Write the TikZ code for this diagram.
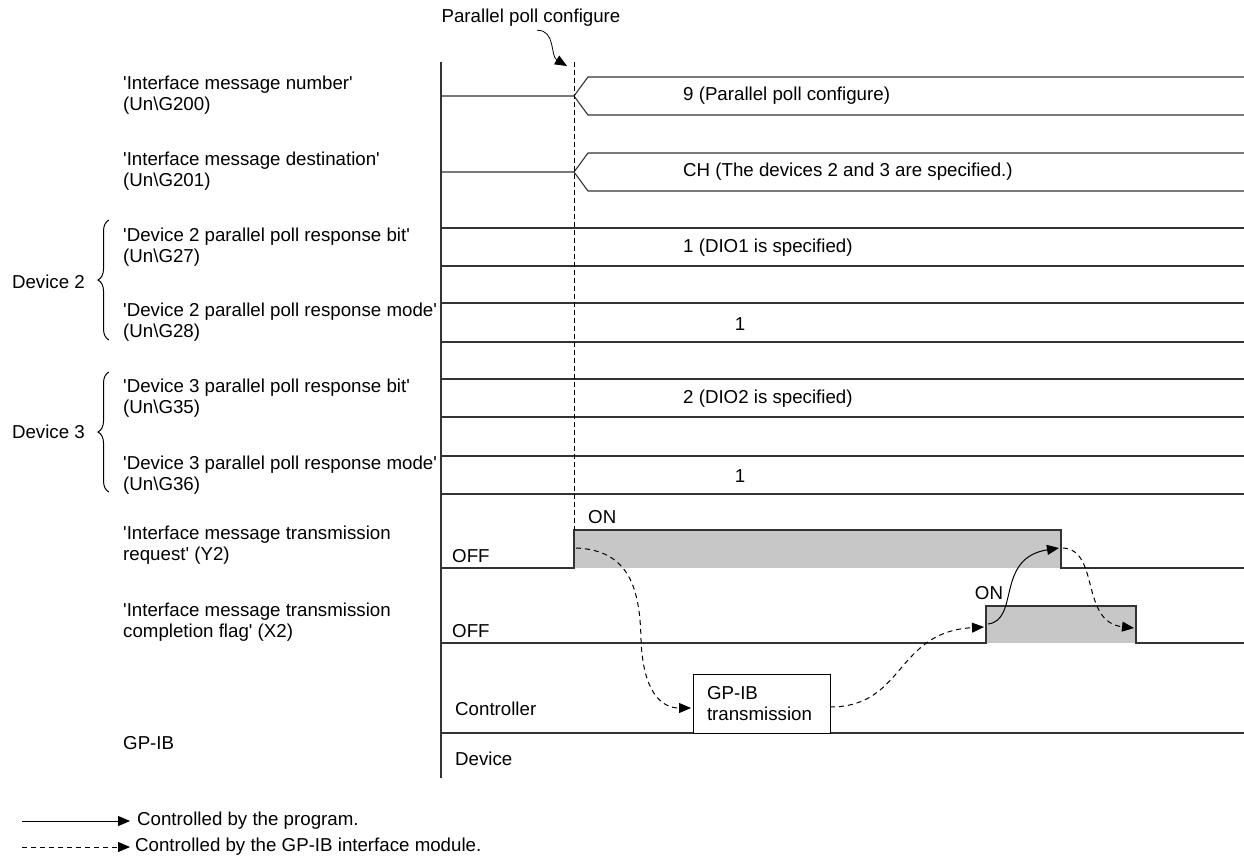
\documentclass[tikz,border=0pt]{standalone}
\usepackage{fontspec}
\setmainfont{Liberation Sans}
\usetikzlibrary{positioning, arrows.meta, decorations.pathreplacing}
\newcommand{\apo}{\textquotesingle}

\begin{document}
\begin{tikzpicture}[x=1pt, y=-1pt, font=\fontsize{18.7}{21}\selectfont,
                  sig/.style={draw=black!80, line width=1.1pt},
                  lbl/.style={align=left, anchor=west, inner sep=0pt},
                  val/.style={anchor=west, inner sep=0pt},
                  onfill/.style={fill=black!22},
                  prog/.style={->, >={Triangle[length=12pt,width=10pt]}, line width=1pt},
                  mod/.style={->, >={Triangle[length=12pt,width=10pt]}, line width=1pt,
                    dash pattern=on 5pt off 4pt}
                  ]
  \useasboundingbox (0,0) rectangle (1244,860);

  % signal names
  \node[lbl] (imn) at (123,95)  {\apo Interface message number\apo\\(Un\textbackslash G200)};
  \node[lbl] (imd) at (123,171) {\apo Interface message destination\apo\\(Un\textbackslash G201)};
  \node[lbl] (d2b) at (123,247) {\apo Device 2 parallel poll response bit\apo\\(Un\textbackslash G27)};
  \node[lbl] (d2m) at (123,322) {\apo Device 2 parallel poll response mode\apo\\(Un\textbackslash G28)};
  \node[lbl] (d3b) at (123,398) {\apo Device 3 parallel poll response bit\apo\\(Un\textbackslash G35)};
  \node[lbl] (d3m) at (123,475) {\apo Device 3 parallel poll response mode\apo\\(Un\textbackslash G36)};
  \node[lbl] (y2)  at (123,545) {\apo Interface message transmission\\request\apo{} (Y2)};
  \node[lbl] (x2)  at (123,622) {\apo Interface message transmission\\completion flag\apo{} (X2)};
  \node[lbl] (gp)  at (123,743) {GP-IB};

  % device braces
  \draw[decorate, decoration={brace, amplitude=11pt}, line width=1pt] (109,340) -- (109,220);
  \draw[decorate, decoration={brace, amplitude=11pt}, line width=1pt] (109,492) -- (109,372);
  \node[anchor=east, inner sep=0pt] (dev2) at (85,282) {Device 2};
  \node[anchor=east, inner sep=0pt] (dev3) at (85,432) {Device 3};

  % time axis
  \draw[sig] (441,62) -- (441,778);

  % buffer memory rows
  \draw[sig] (441,96) -- (574,96) -- (588,77) -- (1244,77) (574,96) -- (588,115) -- (1244,115);
  \draw[sig] (441,172) -- (574,172) -- (588,153) -- (1244,153) (574,172) -- (588,191) -- (1244,191);
  \foreach \yt/\yb in {228/266, 303/342, 379/417, 456/494}
    \draw[sig] (441,\yt) -- (1244,\yt) (441,\yb) -- (1244,\yb);

  \node[val] (v1) at (683,96)  {9 (Parallel poll configure)};
  \node[val] (v2) at (683,172) {CH (The devices 2 and 3 are specified.)};
  \node[val] (v3) at (683,248) {1 (DIO1 is specified)};
  \node[inner sep=0pt] (v4) at (740,324) {1};
  \node[val] (v5) at (683,399) {2 (DIO2 is specified)};
  \node[inner sep=0pt] (v6) at (740,476) {1};

  % Y2 and X2
  \fill[onfill] (574,530) rectangle (1061,568);
  \draw[sig] (441,568) -- (574,568) -- (574,530) -- (1061,530) -- (1061,568) -- (1244,568);
  \fill[onfill] (986,606) rectangle (1136,643);
  \draw[sig] (441,643) -- (986,643) -- (986,606) -- (1136,606) -- (1136,643) -- (1244,643);
  \node[val] (off1) at (452,556) {OFF};
  \node[val] (on1)  at (588,517) {ON};
  \node[val] (off2) at (452,631) {OFF};
  \node[inner sep=0pt] (on2) at (989,593) {ON};

  % GP-IB
  \draw[sig] (441,733) -- (1244,733);
  \node[val] (ctl) at (455,709) {Controller};
  \node[val] (dev) at (455,759) {Device};
  \node[draw, fill=white, line width=1pt, text width=109pt, inner xsep=14pt, inner ysep=0pt,
        minimum height=59pt, align=left] (tx) at (761.5,703.5) {GP-IB\\transmission};

  % parallel poll configure
  \node (ppc) at (531,18) {Parallel poll configure};
  \draw[line width=1pt, dash pattern=on 5pt off 3pt] (574,62) -- (574,530);
  \coordinate (ppcend) at (567,66);
  \draw[prog, line width=0.8pt] ([xshift=6pt]ppc.south) .. controls (556,30) and (550,56) .. (ppcend);

  % handshake
  \coordinate (y2on)  at (576,548);
  \coordinate (txin)  at (691,708);
  \coordinate (txout) at (830,707);
  \coordinate (x2on)  at (984,627);
  \coordinate (x2src) at (988,624);
  \coordinate (y2off) at (1059,548);
  \coordinate (y2src) at (1063,548);
  \coordinate (x2off) at (1134,628);
  \draw[mod] (y2on) .. controls (630,550) and (640,590) .. (641,640)
    .. controls (643,690) and (660,708) .. (txin);
  \draw[mod] (txout) .. controls (905,707) and (895,632) .. (x2on);
  \draw[prog] (x2src) .. controls (1020,620) and (995,558) .. (y2off);
  \draw[mod] (y2src) .. controls (1100,550) and (1080,622) .. (x2off);

  % legend
  \coordinate (lga) at (22,821);
  \coordinate (lgb) at (130,821);
  \coordinate (lgc) at (22,847);
  \coordinate (lgd) at (130,847);
  \draw[prog] (lga) -- (lgb);
  \draw[mod] (lgc) -- (lgd);
  \node[val] (lg1) at (137,821) {Controlled by the program.};
  \node[val] (lg2) at (135,847) {Controlled by the GP-IB interface module.};
\end{tikzpicture}
\end{document}
